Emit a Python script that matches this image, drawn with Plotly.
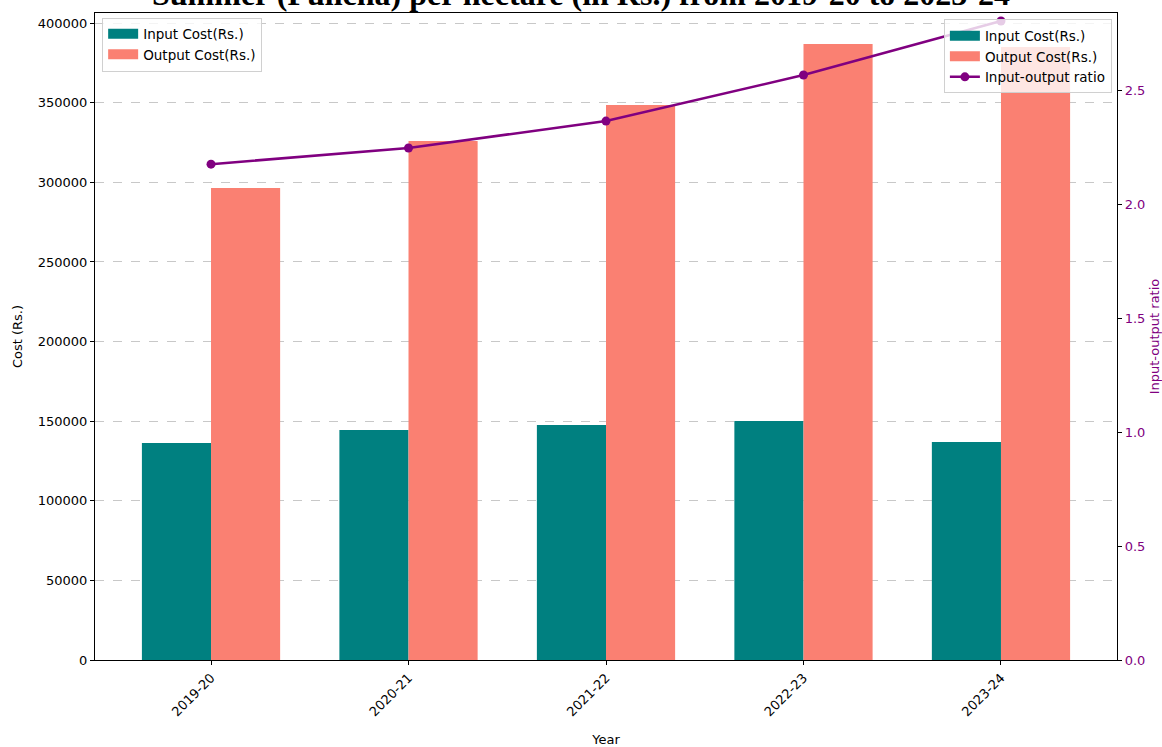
import plotly.graph_objects as go

years = ["2019-20", "2020-21", "2021-22", "2022-23", "2023-24"]
input_cost = [136300, 144500, 147600, 150100, 136900]
output_cost = [296500, 326000, 348600, 386900, 385000]
io_ratio = [2.175, 2.246, 2.364, 2.566, 2.803]

TEAL = "#008080"
SALMON = "#FA8072"
PURPLE = "#800080"
FONT = "DejaVu Sans"

fig = go.Figure()

# Data traces
fig.add_trace(go.Bar(x=years, y=input_cost, name="Input Cost(Rs.)", marker_color=TEAL,
                     marker_line_width=0, offsetgroup="in", showlegend=False))
fig.add_trace(go.Bar(x=years, y=output_cost, name="Output Cost(Rs.)", marker_color=SALMON,
                     marker_line_width=0, offsetgroup="out", showlegend=False))
fig.add_trace(go.Scatter(x=years, y=io_ratio, name="Input-output ratio", yaxis="y2",
                         mode="lines+markers", line=dict(color=PURPLE, width=2.5),
                         marker=dict(color=PURPLE, size=9), showlegend=False))

# Legend entries (rectangular patches like matplotlib)
for lg in ["legend", "legend2"]:
    fig.add_trace(go.Scatter(x=[None], y=[None], mode="lines", name="Input Cost(Rs.)",
                             line=dict(color=TEAL, width=10), legend=lg))
    fig.add_trace(go.Scatter(x=[None], y=[None], mode="lines", name="Output Cost(Rs.)",
                             line=dict(color=SALMON, width=10), legend=lg))
fig.add_trace(go.Scatter(x=[None], y=[None], mode="lines+markers", name="Input-output ratio",
                         yaxis="y2", line=dict(color=PURPLE, width=2.5),
                         marker=dict(color=PURPLE, size=9), legend="legend2"))

fig.update_layout(
    width=1162, height=747,
    margin=dict(l=95, r=45, t=13, b=87, autoexpand=False),
    plot_bgcolor="white", paper_bgcolor="white",
    barmode="group", bargap=0.3, bargroupgap=0,
    font=dict(family=FONT, size=13, color="black"),
    showlegend=True,
    xaxis=dict(
        type="category", range=[-0.5875, 4.5875], automargin=False,
        showline=True, linecolor="black", linewidth=1.2, mirror=True,
        ticks="outside", ticklen=4, tickcolor="black", tickangle=-45,
        tickfont=dict(size=13, family=FONT),
        title=dict(text="Year", font=dict(size=13, family=FONT), standoff=17),
        showgrid=False,
    ),
    yaxis=dict(
        range=[0, 406400], dtick=50000, tickformat="d", automargin=False,
        showline=True, linecolor="black", linewidth=1.2,
        ticks="outside", ticklen=4, tickcolor="black",
        tickfont=dict(size=13, family=FONT),
        showgrid=True, gridcolor="#c8c8c8", griddash="dash", gridwidth=1,
        zeroline=False,
        title=dict(text="Cost (Rs.)", font=dict(size=13, family=FONT), standoff=12),
    ),
    yaxis2=dict(
        overlaying="y", side="right", range=[0, 2.838], dtick=0.5, tickformat=".1f",
        automargin=False,
        showline=True, linecolor="black", linewidth=1.2,
        ticks="outside", ticklen=4, tickcolor="black",
        tickfont=dict(size=13, family=FONT, color=PURPLE),
        showgrid=False, zeroline=False,
        title=dict(text="Input-output ratio", font=dict(size=13, family=FONT, color=PURPLE), standoff=10),
    ),
    legend=dict(
        x=0.007, y=0.993, xanchor="left", yanchor="top",
        bgcolor="rgba(255,255,255,0.8)", bordercolor="#d0d0d0", borderwidth=1,
        font=dict(size=13.5, family=FONT), tracegroupgap=0, itemwidth=30,
    ),
    legend2=dict(
        x=0.995, y=0.99, xanchor="right", yanchor="top",
        bgcolor="rgba(255,255,255,0.8)", bordercolor="#d0d0d0", borderwidth=1,
        font=dict(size=13.5, family=FONT), tracegroupgap=0, itemwidth=30,
    ),
)

fig.add_annotation(
    text="<b>Summer (Pulicha) per hectare (in Rs.) from 2019-20 to 2023-24</b>",
    xref="paper", yref="paper", x=0.4755, y=1.0293, xanchor="center", yanchor="middle",
    showarrow=False, font=dict(family="Liberation Serif", size=32, color="black"),
)

fig.write_html("out.html", config={"displayModeBar": False},
               post_script="document.body.style.margin='0';")
